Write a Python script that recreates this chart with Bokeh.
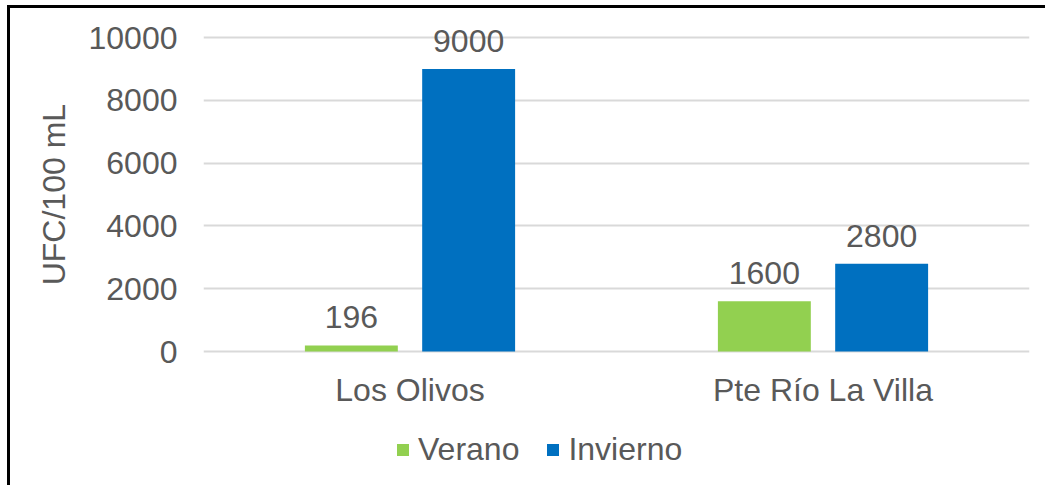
from bokeh.plotting import figure
from bokeh.models import ColumnDataSource, FactorRange, Range1d, LabelSet, Legend, LegendItem, FixedTicker
from bokeh.transform import dodge
from bokeh.core.properties import value
from bokeh.embed import file_html
from bokeh.resources import INLINE

categories = ["Los Olivos", "Pte Río La Villa"]
series_names = ["Verano", "Invierno"]
verano = [196, 1600]
invierno = [9000, 2800]
y_ticks = [0, 2000, 4000, 6000, 8000, 10000]
colors = ["#92D050", "#0070C0"]

FONT = "Liberation Sans"
TXT = "#595959"
FS = "32px"

src = ColumnDataSource(dict(
    cat=categories,
    verano=verano,
    invierno=invierno,
    verano_lbl=[str(v) for v in verano],
    invierno_lbl=[str(v) for v in invierno],
))

p = figure(
    width=1038, height=480,
    x_range=FactorRange(factors=categories, range_padding=0),
    y_range=Range1d(-3917, 10800),
    output_backend="svg", toolbar_location=None,
    min_border_left=193, min_border_right=19, min_border_top=4, min_border_bottom=14,
)
p.styles = {"margin-left": "7px", "margin-top": "5px",
            "border-left": "3px solid black", "border-top": "3px solid black"}
p.outline_line_color = None

off = 0.142
w = 0.225
r1 = p.vbar(x=dodge("cat", -off, range=p.x_range), top="verano", width=w, source=src,
            fill_color=colors[0], line_color=None)
r2 = p.vbar(x=dodge("cat", off, range=p.x_range), top="invierno", width=w, source=src,
            fill_color=colors[1], line_color=None)

for field, o in (("verano", -off), ("invierno", off)):
    p.add_layout(LabelSet(x=dodge("cat", o, range=p.x_range), y=field, text=field + "_lbl", source=src,
                          text_align="center", text_baseline="alphabetic", y_offset=17,
                          text_font=value(FONT), text_font_size=FS, text_color=TXT))

# axes
p.yaxis.ticker = FixedTicker(ticks=y_ticks)
p.yaxis.axis_line_color = None
p.yaxis.major_tick_line_color = None
p.yaxis.major_tick_out = 0
p.yaxis.major_tick_in = 0
p.yaxis.minor_tick_line_color = None
p.yaxis.major_label_standoff = 26
p.yaxis.major_label_text_font = FONT
p.yaxis.major_label_text_font_size = FS
p.yaxis.major_label_text_color = TXT
p.yaxis.axis_label = "\u00a0" * 11 + "UFC/100 mL"
p.yaxis.axis_label_text_font = FONT
p.yaxis.axis_label_text_font_size = FS
p.yaxis.axis_label_text_font_style = "normal"
p.yaxis.axis_label_text_color = TXT
p.yaxis.axis_label_standoff = 14

p.xaxis.fixed_location = 0
p.xaxis.axis_line_color = None
p.xaxis.major_tick_line_color = None
p.xaxis.major_tick_out = 0
p.xaxis.major_tick_in = 0
p.xaxis.minor_tick_line_color = None
p.xaxis.major_label_standoff = 20
p.xaxis.major_label_text_font = FONT
p.xaxis.major_label_text_font_size = FS
p.xaxis.major_label_text_color = TXT

p.xgrid.grid_line_color = None
p.ygrid.grid_line_color = "#D9D9D9"
p.ygrid.grid_line_width = 2

legend = Legend(
    items=[LegendItem(label=series_names[0], renderers=[r1]),
           LegendItem(label=series_names[1], renderers=[r2])],
    orientation="horizontal", location=(192, 6),
    glyph_width=15, glyph_height=15, label_standoff=8, spacing=26,
    padding=0, margin=0, border_line_color=None, background_fill_alpha=0,
    label_text_font=FONT, label_text_font_size=FS, label_text_color=TXT,
)
p.add_layout(legend, "center")

open("out.html", "w").write(file_html(p, INLINE))
